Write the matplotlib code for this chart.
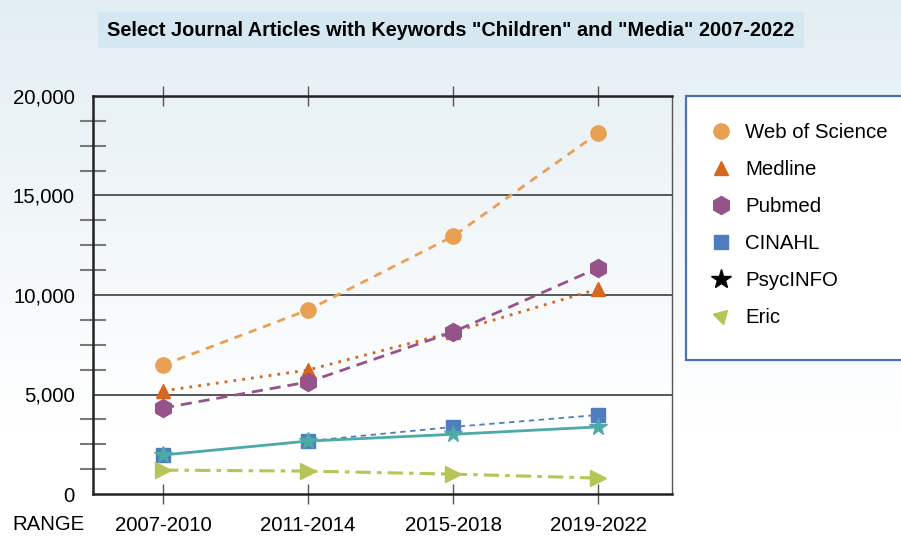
import numpy as np
import matplotlib.pyplot as plt
from matplotlib.lines import Line2D
from matplotlib.patches import Rectangle
from matplotlib.ticker import FixedLocator, FuncFormatter

plt.rcParams["font.family"] = ["Liberation Sans", "DejaVu Sans"]

# ---------------------------------------------------------------------------
# Data
# ---------------------------------------------------------------------------
periods = ["2007-2010", "2011-2014", "2015-2018", "2019-2022"]
web_of_science = [6480, 9250, 12950, 18130]
medline = [5180, 6230, 8140, 10300]
pubmed = [4320, 5630, 8140, 11360]
cinahl = [1960, 2660, 3370, 3970]
psycinfo = [1960, 2660, 3000, 3370]
eric = [1200, 1150, 1000, 800]

x = np.arange(len(periods))
FS = 14.7

fig = plt.figure(figsize=(9.01, 5.38), dpi=100)

# background gradient over the whole figure
bg = fig.add_axes([0, 0, 1, 1], zorder=-10)
grad = np.linspace(0, 1, 256).reshape(-1, 1)
top_col = np.array([0.890, 0.933, 0.953])
bot_col = np.array([1.0, 1.0, 1.0])
w = np.clip(grad / 0.8, 0, 1)
img = top_col * (1 - w)[..., None] + bot_col * w[..., None]
bg.imshow(img, aspect="auto", extent=[0, 1, 0, 1], origin="upper")
bg.set_axis_off()

ax = fig.add_axes([93 / 901, 44 / 538, 579 / 901, 398 / 538])
ax.patch.set_alpha(0)

ax.plot(x, web_of_science, color="#E8A153", linestyle=(0, (3, 2.5)), linewidth=2,
        marker="o", markersize=11, zorder=3)
ax.plot(x, medline, color="#D5671F", linestyle=(0, (1, 2.2)), linewidth=2,
        marker="^", markersize=10, zorder=3)
ax.plot(x, pubmed, color="#96538A", linestyle=(0, (4, 2.5)), linewidth=2,
        marker="h", markersize=13, zorder=3)
ax.plot(x, cinahl, color="#4F7DBD", linestyle=(0, (3, 2.5)), linewidth=1.3,
        marker="s", markersize=10, zorder=3)
ax.plot(x, psycinfo, color="#4DAAA9", linestyle="-", linewidth=2,
        marker="*", markersize=13, zorder=4)
ax.plot(x, eric, color="#B6C556", linestyle=(0, (5, 2, 1.5, 2)), linewidth=2.2,
        marker=">", markersize=12, zorder=3)

ax.set_xlim(-0.483, 3.51)
ax.set_ylim(0, 20000)

# gridlines at major values
for yv in (5000, 10000, 15000):
    ax.axhline(yv, color="#4a4a4a", linewidth=1.3, zorder=1)

for side in ("left", "bottom", "top", "right"):
    ax.spines[side].set_linewidth(1.8)
    ax.spines[side].set_color("#222222")
ax.spines["right"].set_color("#555555")
ax.spines["right"].set_linewidth(1.0)

ax.set_xticks(x)
ax.set_xticklabels(periods, fontsize=FS)
ax.tick_params(axis="x", which="major", direction="inout", length=15, width=1,
               color="#555555", top=True, pad=8)

ax.yaxis.set_major_locator(FixedLocator([0, 5000, 10000, 15000, 20000]))
ax.yaxis.set_major_formatter(FuncFormatter(lambda v, p: f"{int(v):,}"))
minor = [v for v in np.arange(0, 20001, 1250) if v % 5000 != 0]
ax.yaxis.set_minor_locator(FixedLocator(minor))
ax.tick_params(axis="y", which="major", length=0, labelsize=FS, pad=13)
ax.tick_params(axis="y", which="minor", direction="inout", length=19, width=1.5,
               color="#7a7a7a")

fig.text(12 / 901, 1 - 525 / 538, "RANGE", fontsize=FS, va="center", ha="left")

# title in a shaded box
fig.text(451 / 901, 1 - 30 / 538,
         'Select Journal Articles with Keywords "Children" and "Media" 2007-2022',
         fontsize=14.3, fontweight="bold", ha="center", va="center",
         bbox=dict(boxstyle="square,pad=0.45", facecolor="#D5E7F0", edgecolor="none"))

# legend panel
fig.patches.append(Rectangle((686 / 901, 1 - 360 / 538), 240 / 901, 264 / 538,
                             transform=fig.transFigure, facecolor="white",
                             edgecolor="#4A72B8", linewidth=1.6, zorder=5))
handles = [
    Line2D([], [], linestyle="none", marker="o", color="#E8A153", markersize=11),
    Line2D([], [], linestyle="none", marker="^", color="#D5671F", markersize=10),
    Line2D([], [], linestyle="none", marker="h", color="#96538A", markersize=13),
    Line2D([], [], linestyle="none", marker="s", color="#4F7DBD", markersize=10),
    Line2D([], [], linestyle="none", marker="*", color="black", markersize=15),
    Line2D([], [], linestyle="none", marker=(3, 0, 195), color="#B6C556", markersize=12),
]
labels = ["Web of Science", "Medline", "Pubmed", "CINAHL", "PsycINFO", "Eric"]
leg = fig.legend(handles, labels, loc="upper left",
                 bbox_to_anchor=(692 / 901, 1 - 105 / 538), frameon=False,
                 fontsize=FS, labelspacing=0.88, handlelength=1.06,
                 handletextpad=0.64)
leg.set_zorder(6)

fig.savefig("out.png", dpi=100)
